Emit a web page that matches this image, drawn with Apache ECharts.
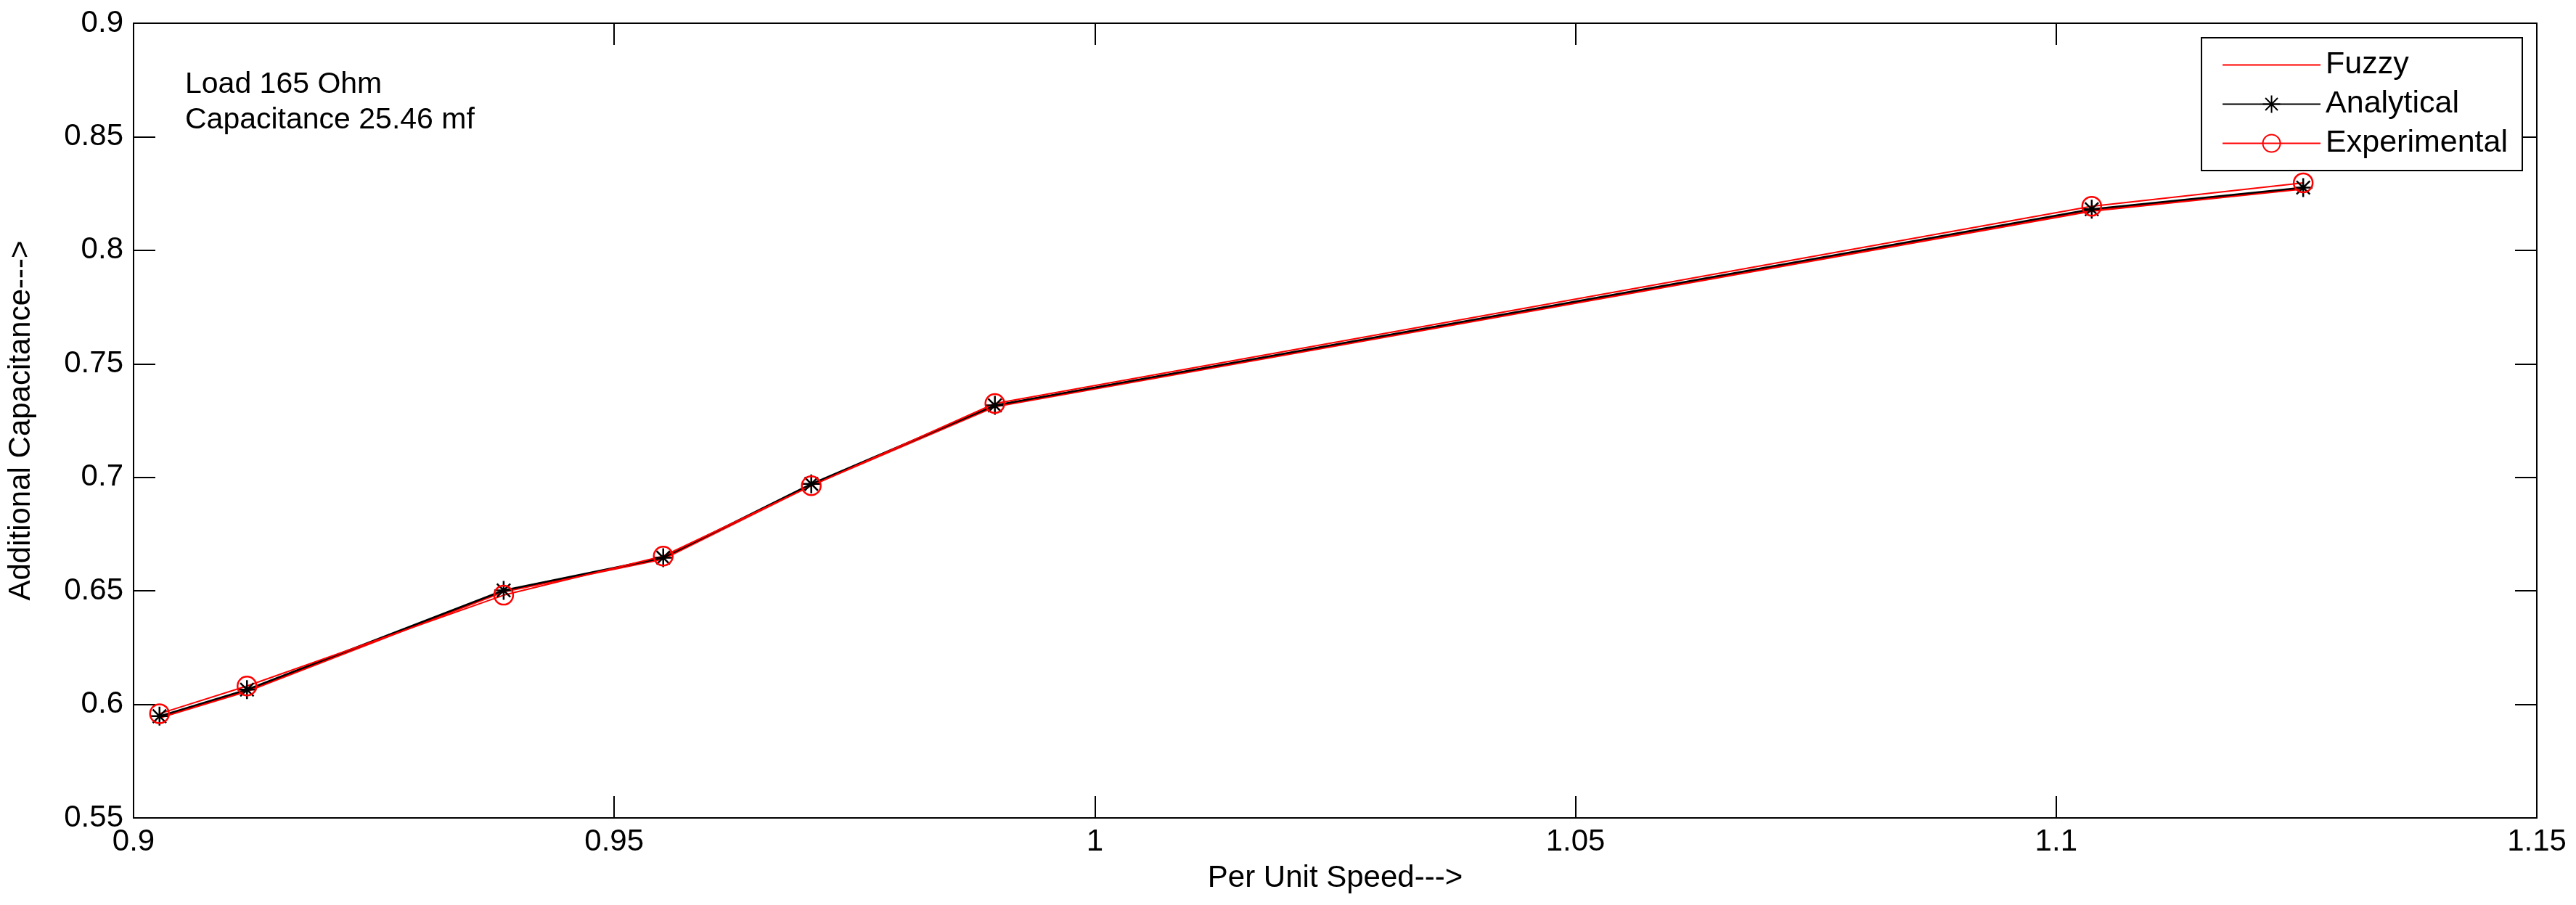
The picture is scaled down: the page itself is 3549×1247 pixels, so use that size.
<!DOCTYPE html>
<html>
<head>
<meta charset="utf-8">
<script src="https://cdn.jsdelivr.net/npm/echarts@6/dist/echarts.min.js"></script>
<style>
  html, body { margin: 0; padding: 0; background: #fff; }
  #chart { width: 3549px; height: 1247px; }
</style>
</head>
<body>
<div id="chart"></div>
<script>
// values
const speed = [0.9027, 0.9118, 0.9385, 0.9551, 0.9705, 0.9896, 1.1037, 1.1257];
const fuzzy = [0.5942, 0.6058, 0.6497, 0.6641, 0.6966, 0.7312, 0.8174, 0.8271];
const analytical = [0.5948, 0.6065, 0.6502, 0.6646, 0.6971, 0.7317, 0.8181, 0.8276];
const experimental = [0.5959, 0.6081, 0.6481, 0.6653, 0.6963, 0.7325, 0.8194, 0.8297];
const seriesNames = ['Fuzzy', 'Analytical', 'Experimental'];
const noteLines = ['Load 165 Ohm', 'Capacitance 25.46 mf'];

const FONT = '"Liberation Sans", Arial, sans-serif';
const FS = 42;
const STAR = 'path://M12,0L12,24M0,12L24,12M3.5,3.5L20.5,20.5M3.5,20.5L20.5,3.5';

function pairs(values) {
  return speed.map((x, i) => [x, values[i]]);
}

function frameAxis(extra) {
  return Object.assign({
    type: 'value',
    axisLine: { show: true, onZero: false, lineStyle: { color: '#000', width: 2 } },
    axisTick: { show: true, inside: true, length: 30, lineStyle: { color: '#000', width: 2 } },
    splitLine: { show: false },
  }, extra);
}

const chart = echarts.init(document.getElementById('chart'), null, { renderer: 'canvas' });

chart.setOption({
  animation: false,
  backgroundColor: '#fff',
  textStyle: { fontFamily: FONT },
  grid: { left: 181, right: 54, top: 32, bottom: 120, containLabel: false },
  legend: {
    data: [
      { name: seriesNames[0], itemStyle: { color: 'rgba(0,0,0,0)', borderWidth: 0 } },
      { name: seriesNames[1] },
      { name: seriesNames[2] },
    ],
    orient: 'vertical',
    right: 74,
    top: 52,
    padding: [16, 20, 16, 28],
    itemWidth: 135,
    itemHeight: 30,
    itemGap: 11,
    backgroundColor: '#fff',
    borderColor: '#000',
    borderWidth: 2,
    borderRadius: 0,
    textStyle: { color: '#000', fontSize: 43, fontFamily: FONT, padding: [0, 0, 0, 2] },
  },
  graphic: [{
    type: 'text',
    left: 255,
    top: 92,
    style: {
      text: noteLines.join('\n'),
      font: `41px ${FONT}`,
      lineHeight: 49,
      fill: '#000',
    },
  }],
  xAxis: [
    frameAxis({
      position: 'bottom',
      min: 0.9,
      max: 1.15,
      interval: 0.05,
      name: 'Per Unit Speed--->',
      nameLocation: 'middle',
      nameGap: 62,
      nameTextStyle: { color: '#000', fontSize: FS, fontFamily: FONT },
      axisLabel: { color: '#000', fontSize: FS, fontFamily: FONT, margin: 12, showMinLabel: true, showMaxLabel: true },
    }),
    frameAxis({
      position: 'top',
      min: 0.9,
      max: 1.15,
      interval: 0.05,
      axisLabel: { show: false },
    }),
  ],
  yAxis: [
    frameAxis({
      position: 'left',
      min: 0.55,
      max: 0.9,
      interval: 0.05,
      name: 'Additional Capacitance--->',
      nameLocation: 'middle',
      nameGap: 134,
      nameTextStyle: { color: '#000', fontSize: FS, fontFamily: FONT },
      axisLabel: { color: '#000', fontSize: FS, fontFamily: FONT, margin: 14, showMinLabel: true, showMaxLabel: true },
    }),
    frameAxis({
      position: 'right',
      min: 0.55,
      max: 0.9,
      interval: 0.05,
      axisLabel: { show: false },
    }),
  ],
  series: [
    {
      name: seriesNames[0],
      type: 'line',
      data: pairs(fuzzy),
      symbol: 'none',
      lineStyle: { color: '#ff0000', width: 3 },
      itemStyle: { color: '#ff0000' },
    },
    {
      name: seriesNames[1],
      type: 'line',
      data: pairs(analytical),
      symbol: STAR,
      symbolSize: 26,
      lineStyle: { color: '#000', width: 2.5 },
      itemStyle: { color: '#000', borderColor: '#000', borderWidth: 2.5 },
    },
    {
      name: seriesNames[2],
      type: 'line',
      data: pairs(experimental),
      symbol: 'circle',
      symbolSize: 26,
      lineStyle: { color: '#ff0000', width: 2 },
      itemStyle: { color: 'rgba(255,255,255,0)', borderColor: '#ff0000', borderWidth: 2.5 },
    },
  ],
});
</script>
</body>
</html>
